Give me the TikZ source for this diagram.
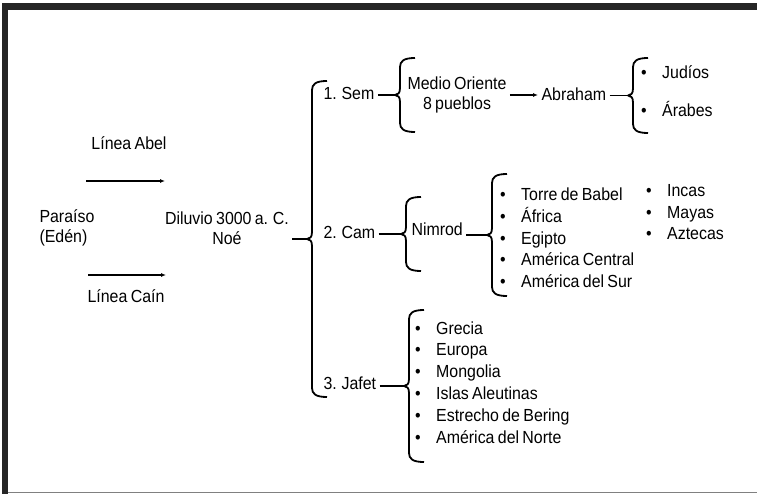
\documentclass[tikz,border=0pt]{standalone}
\usepackage{fontspec}
\setmainfont{Liberation Sans}[FakeStretch=0.91,WordSpace=0.75]
\usepackage{tikz}
\usetikzlibrary{arrows.meta,calc}

\tikzset{
  klammer/.style={line width=1.8bp, line join=round},
  linie/.style={line width=1.4bp},
  pfeil/.style={line width=1.2bp,-{Latex[length=5bp,width=4bp]}},
  eintrag/.style={anchor=base west},
  liste/.style={anchor=base west, inner xsep=0pt},
}
\newcommand{\punkt}{\makebox[21bp][l]{•}}
% geschweifte Klammer: Name der Spitze, x, oben, unten
\newcommand{\klammer}[4]{%
  \pgfmathsetmacro{\mitte}{(#3+#4)/2}
  \draw[klammer] (#2+15,#3) .. controls (#2+4,#3) and (#2,#3+3) .. (#2,#3+9)
    -- (#2,\mitte-7) .. controls (#2,\mitte-2) and (#2-2,\mitte) .. (#2-5,\mitte) coordinate (#1)
    .. controls (#2-2,\mitte) and (#2,\mitte+2) .. (#2,\mitte+7)
    -- (#2,#4-9) .. controls (#2,#4-3) and (#2+4,#4) .. (#2+15,#4);
}

\begin{document}
\begin{tikzpicture}[x={(1bp,0)},y={(0,-1bp)},font=\fontsize{17.5bp}{20.5bp}\selectfont]
\useasboundingbox (0,0) rectangle (757,494);
%Rahmen
\fill[black!85] (2,3) rectangle (757,10);
\fill[black!85] (2,3) rectangle (8,494);
\draw[gray,line width=1.5bp] (8,492.5) -- (757,492.5);

\node[anchor=west,align=left] (paraiso) at (36,228) {Paraíso\\(Edén)};
\node[align=center] (diluvio) at (227,228) {Diluvio 3000 a. C.\\Noé};
\node (abel) at (129,143) {Línea Abel};
\node (cain) at (126,296) {Línea Caín};
\coordinate (abelA) at (86,181);
\coordinate (abelB) at (165,181);
\coordinate (cainA) at (88,275);
\coordinate (cainB) at (166,275);
\draw[pfeil] (abelA) -- (abelB);
\draw[pfeil] (cainA) -- (cainB);

%Noé und die drei Söhne
\klammer{noeK}{312}{81}{397}
\draw[linie] (diluvio.east |- noeK) -- (noeK);
\node[eintrag] (sem) at (320,100) {1. Sem};
\node[eintrag] (cam) at (320,239) {2. Cam};
\node[eintrag] (jafet) at (320,389) {3. Jafet};

%Sem
\klammer{semK}{400}{58}{132}
\draw[linie] (sem.east |- semK) -- (semK);
\node[align=center] (medio) at (457,95) {Medio Oriente\\8 pueblos};
\node[eintrag] (abraham) at (538,101) {Abraham};
\draw[pfeil] (medio.east) -- (abraham.west |- medio.east);
\klammer{abrahamK}{633}{58}{133}
\draw[linie] (abraham.east |- abrahamK) -- (abrahamK);
\node[liste] (judios) at (641,79) {\punkt Judíos};
\node[liste] (arabes) at (641,117) {\punkt Árabes};

%Cam
\klammer{camK}{406}{197}{271}
\draw[linie] (cam.east |- camK) -- (camK);
\node[eintrag] (nimrod) at (408,236) {Nimrod};
\klammer{nimrodK}{492}{174}{296}
\draw[linie] (nimrod.east |- nimrodK) -- (nimrodK);
\foreach \txt [count=\i] in {Torre de Babel,África,Egipto,América Central,América del Sur}
  \node[liste] (nimrod\i) at (500,{200.5+21.8*(\i-1)}) {\punkt\txt};
\foreach \txt [count=\i] in {Incas,Mayas,Aztecas}
  \node[liste] (pueblo\i) at (646,{197+21.5*(\i-1)}) {\punkt\txt};

%Jafet
\klammer{jafetK}{409}{310}{462}
\draw[linie] (jafet.east |- jafetK) -- (jafetK);
\foreach \txt [count=\i] in {Grecia,Europa,Mongolia,Islas Aleutinas,Estrecho de Bering,América del Norte}
  \node[liste] (jafet\i) at (415,{334+21.8*(\i-1)}) {\punkt\txt};
\end{tikzpicture}
\end{document}
